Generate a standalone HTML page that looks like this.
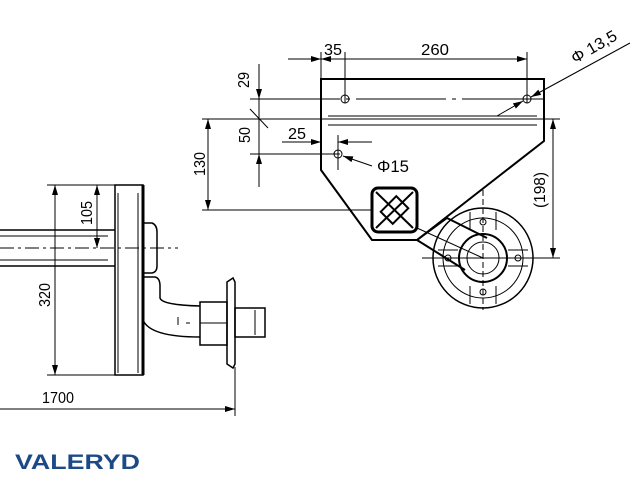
<!DOCTYPE html>
<html><head><meta charset="utf-8"><style>
html,body{margin:0;padding:0;background:#fff;}
svg{display:block;}
text{font-family:"Liberation Sans",sans-serif;fill:#000;}
</style></head><body>
<svg width="640" height="480" viewBox="0 0 640 480" xmlns="http://www.w3.org/2000/svg">
<defs>
<marker id="a" viewBox="0 0 10 6" refX="10" refY="3" markerWidth="10" markerHeight="6" orient="auto-start-reverse" markerUnits="userSpaceOnUse"><path d="M0,0 L10,3 L0,6 z" fill="#000"/></marker>
</defs>
<g stroke="#000" fill="none" stroke-width="1">
<polygon points="321,79 544,79 544,141 417,240 372,240 321,170" stroke-width="2"/>
<line x1="328" y1="116" x2="537" y2="116"/>
<line x1="328" y1="125" x2="537" y2="125"/>
<circle cx="345" cy="99" r="4"/><circle cx="527" cy="99" r="4"/><circle cx="338" cy="154" r="4"/>
<line x1="250" y1="99" x2="543" y2="99" stroke-dasharray="90,6,4,6"/>
<line x1="202" y1="119" x2="560" y2="119"/>
<rect x="372" y="188" width="45" height="44" rx="6" stroke-width="3"/>
<rect x="386" y="199" width="17" height="22" transform="rotate(45 394.5 210)" stroke-width="2"/>
<line x1="376" y1="192" x2="413" y2="228" stroke-width="2"/><line x1="413" y1="192" x2="376" y2="228" stroke-width="2"/>
<circle cx="483" cy="258" r="50" stroke-width="1.5"/>
<circle cx="483" cy="258" r="40"/>
<circle cx="483" cy="258" r="24" stroke-width="2"/>
<circle cx="483" cy="258" r="16"/>
<circle cx="483" cy="222" r="3"/><circle cx="483" cy="292" r="3"/><circle cx="448" cy="258" r="3"/><circle cx="518" cy="258" r="3"/>
<line x1="470" y1="212" x2="470" y2="230"/><line x1="496" y1="212" x2="496" y2="230"/>
<line x1="470" y1="286" x2="470" y2="304"/><line x1="496" y1="286" x2="496" y2="304"/>
<line x1="438" y1="250" x2="458" y2="250"/><line x1="438" y1="266" x2="458" y2="266"/>
<line x1="508" y1="250" x2="528" y2="250"/><line x1="508" y1="266" x2="528" y2="266"/>
<line x1="483" y1="190" x2="483" y2="310" stroke-dasharray="6,3"/>
<path d="M417,240 L447,218 L487,238" stroke-width="2"/>
<path d="M417,240 L465,270" stroke-width="2"/>
<line x1="417" y1="228" x2="483" y2="258"/>
<line x1="553" y1="119" x2="553" y2="258" marker-start="url(#a)" marker-end="url(#a)"/>
<line x1="422" y1="258" x2="560" y2="258"/>
<line x1="208" y1="119" x2="208" y2="210" marker-start="url(#a)" marker-end="url(#a)"/>
<line x1="202" y1="210" x2="372" y2="210"/>
<line x1="259" y1="64" x2="259" y2="99" marker-end="url(#a)"/>
<line x1="259" y1="99" x2="259" y2="154"/>
<line x1="259" y1="154" x2="259" y2="187" marker-start="url(#a)"/>
<line x1="250" y1="109" x2="268" y2="128"/>
<line x1="250" y1="154" x2="340" y2="154"/>
<line x1="282" y1="142" x2="321" y2="142" marker-end="url(#a)"/>
<line x1="372" y1="142" x2="338" y2="142" marker-end="url(#a)"/>
<line x1="338" y1="135" x2="338" y2="170"/>
<line x1="288" y1="59" x2="321" y2="59" marker-end="url(#a)"/>
<line x1="321" y1="59" x2="527" y2="59" marker-start="url(#a)" marker-end="url(#a)"/>
<line x1="321" y1="52" x2="321" y2="79"/><line x1="345" y1="52" x2="345" y2="103"/><line x1="527" y1="52" x2="527" y2="103"/>
<line x1="630" y1="43" x2="531" y2="97" marker-end="url(#a)"/>
<line x1="497" y1="116" x2="523" y2="101" marker-end="url(#a)"/>
<line x1="372" y1="166" x2="343" y2="156" marker-end="url(#a)"/>
<rect x="115" y="185" width="28" height="190" stroke-width="1.5"/>
<line x1="143" y1="185" x2="143" y2="375" stroke-width="3"/>
<line x1="118" y1="193" x2="118" y2="373"/><line x1="138" y1="193" x2="138" y2="373"/>
<line x1="0" y1="230" x2="115" y2="230" stroke-width="1.5"/>
<line x1="0" y1="236" x2="108" y2="236"/>
<line x1="0" y1="260" x2="108" y2="260"/>
<line x1="0" y1="266" x2="115" y2="266" stroke-width="1.5"/>
<line x1="0" y1="248" x2="178" y2="248" stroke-dasharray="14,4,3,4"/>
<line x1="47" y1="185" x2="115" y2="185"/><line x1="47" y1="375" x2="115" y2="375"/>
<line x1="55" y1="185" x2="55" y2="375" marker-start="url(#a)" marker-end="url(#a)"/>
<line x1="97" y1="185" x2="97" y2="248" marker-start="url(#a)" marker-end="url(#a)"/>
<path d="M143,223 L152,223 Q157,225 157,232 L157,266 Q157,272 152,273 L143,273" stroke-width="1.5"/>
<path d="M143,277 L155,277 Q160,278 160,286 L160,298 Q162,305 200,306" stroke-width="1.5"/>
<path d="M143,320 Q150,337 200,337" stroke-width="1.5"/>
<line x1="178" y1="317" x2="178" y2="325"/><line x1="186" y1="323" x2="190" y2="323"/>
<rect x="200" y="302" width="27" height="43" stroke-width="1.5"/>
<line x1="200" y1="323" x2="227" y2="323"/>
<path d="M227,282 L233,278 L235,282 L235,364 L233,368 L227,364 Z" stroke-width="1.5"/>
<rect x="235" y="308" width="30" height="29" stroke-width="1.5"/>
<line x1="255" y1="310" x2="255" y2="335"/>
<line x1="235" y1="367" x2="235" y2="416"/>
<line x1="0" y1="409" x2="235" y2="409" marker-end="url(#a)"/>
</g>
<g font-size="16">
<text x="333" y="55" text-anchor="middle" textLength="18" lengthAdjust="spacingAndGlyphs">35</text>
<text x="435" y="55" text-anchor="middle" textLength="28" lengthAdjust="spacingAndGlyphs">260</text>
<text x="297" y="139" text-anchor="middle" textLength="18" lengthAdjust="spacingAndGlyphs">25</text>
<text x="377" y="172" font-size="17" textLength="32" lengthAdjust="spacingAndGlyphs">Φ15</text>
<text x="0" y="0" transform="translate(575,64) rotate(-30)" textLength="50" lengthAdjust="spacingAndGlyphs">Φ 13,5</text>
<text x="0" y="0" text-anchor="middle" transform="translate(249,80) rotate(-90)" textLength="16" lengthAdjust="spacingAndGlyphs">29</text>
<text x="0" y="0" text-anchor="middle" transform="translate(250,135) rotate(-90)" textLength="16" lengthAdjust="spacingAndGlyphs">50</text>
<text x="0" y="0" text-anchor="middle" transform="translate(205,164) rotate(-90)" textLength="24" lengthAdjust="spacingAndGlyphs">130</text>
<text x="0" y="0" text-anchor="middle" transform="translate(545,190) rotate(-90)" textLength="36" lengthAdjust="spacingAndGlyphs">(198)</text>
<text x="0" y="0" text-anchor="middle" transform="translate(50,295) rotate(-90)" textLength="24" lengthAdjust="spacingAndGlyphs">320</text>
<text x="0" y="0" text-anchor="middle" transform="translate(92,213) rotate(-90)" textLength="24" lengthAdjust="spacingAndGlyphs">105</text>
<text x="58" y="403" text-anchor="middle" textLength="32" lengthAdjust="spacingAndGlyphs">1700</text>
</g>
<text x="15" y="469" font-size="21" font-weight="bold" style="fill:#1b4a86" textLength="125" lengthAdjust="spacingAndGlyphs">VALERYD</text>
</svg>
</body></html>
